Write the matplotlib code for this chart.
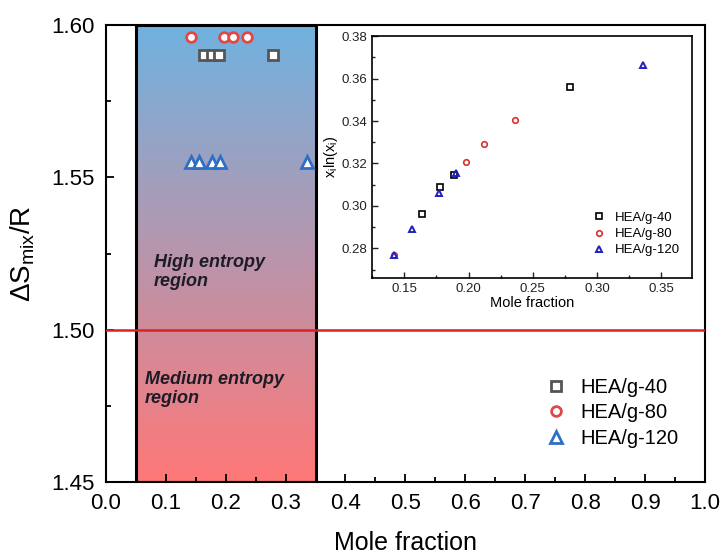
import numpy as np
import matplotlib.pyplot as plt
from matplotlib.colors import LinearSegmentedColormap
from matplotlib.ticker import MultipleLocator

plt.rcParams['font.family'] = ['Liberation Sans', 'DejaVu Sans']
plt.rcParams['mathtext.default'] = 'regular'

# mole fractions of each element per sample
x40 = [0.164, 0.178, 0.189, 0.279]
x80 = [0.142, 0.198, 0.212, 0.236]
x120 = [0.142, 0.156, 0.177, 0.190, 0.336]

# configurational entropy per sample (dS_mix / R)
s40 = 1.590
s80 = 1.596
s120 = 1.555

# -x_i ln(x_i) for the inset
y40 = [0.296, 0.309, 0.3145, 0.356]
y80 = [0.277, 0.3205, 0.329, 0.3405]
y120 = [0.277, 0.289, 0.306, 0.3155, 0.3665]

labels = ['HEA/g-40', 'HEA/g-80', 'HEA/g-120']

fig = plt.figure(figsize=(7.24, 5.56), dpi=100)
ax = fig.add_axes([0.146, 0.133, 0.828, 0.822])

# gradient region
cmap = LinearSegmentedColormap.from_list('ent', [(1.0, 0.47, 0.47), (0.44, 0.70, 0.88)])
grad = np.linspace(0, 1, 256).reshape(-1, 1)
ax.imshow(grad, extent=[0.05, 0.35, 1.45, 1.60], origin='lower', aspect='auto',
          cmap=cmap, zorder=1)
ax.add_patch(plt.Rectangle((0.05, 1.45), 0.30, 0.15, fill=False, ec='black', lw=2.2, zorder=2))

ax.axhline(1.50, color='#d92323', lw=1.8, zorder=3)

ax.plot(x40, [s40] * len(x40), 's', ms=6.5, mfc='white', mec='#555555', mew=2,
        ls='none', label=labels[0], zorder=4)
ax.plot(x80, [s80] * len(x80), 'o', ms=7, mfc='white', mec='#e04848', mew=2,
        ls='none', label=labels[1], zorder=4)
ax.plot(x120, [s120] * len(x120), '^', ms=8, mfc='white', mec='#2e6fc4', mew=2,
        ls='none', label=labels[2], zorder=4)

ax.text(0.08, 1.519, 'High entropy\nregion', fontsize=13, fontweight='bold',
        fontstyle='italic', color='#1c1c28', va='center', ha='left', zorder=5)
ax.text(0.065, 1.4805, 'Medium entropy\nregion', fontsize=13, fontweight='bold',
        fontstyle='italic', color='#1c1c28', va='center', ha='left', zorder=5)

ax.set_xlim(0.0, 1.0)
ax.set_ylim(1.45, 1.60)
ax.xaxis.set_major_locator(MultipleLocator(0.1))
ax.xaxis.set_minor_locator(MultipleLocator(0.05))
ax.yaxis.set_major_locator(MultipleLocator(0.05))
ax.yaxis.set_minor_locator(MultipleLocator(0.025))
ax.tick_params(which='both', direction='in', top=False, right=False, labelsize=16, pad=8)
ax.tick_params(which='major', length=6, width=1.3)
ax.tick_params(which='minor', length=3.5, width=1.3)
ax.xaxis.set_major_formatter(plt.FormatStrFormatter('%.1f'))
ax.yaxis.set_major_formatter(plt.FormatStrFormatter('%.2f'))
for sp in ax.spines.values():
    sp.set_linewidth(1.5)
ax.set_xlabel('Mole fraction', fontsize=18, labelpad=12)
ax.set_ylabel(r'$\Delta S_{mix}/R$', fontsize=20, labelpad=10)

ax.legend(loc='lower right', bbox_to_anchor=(0.985, 0.035), frameon=False, fontsize=14.5,
          handletextpad=0.6, labelspacing=0.32, handlelength=1.2)

# inset
ins = fig.add_axes([0.514, 0.5, 0.442, 0.435])
ins.plot(x40, y40, 's', ms=4, mfc='none', mec='black', mew=1.2, ls='none', label=labels[0])
ins.plot(x80, y80, 'o', ms=4, mfc='none', mec='#d83030', mew=1.2, ls='none', label=labels[1])
ins.plot(x120, y120, '^', ms=4.5, mfc='none', mec='#2020c0', mew=1.4, ls='none', label=labels[2])
ins.set_xlim(0.125, 0.374)
ins.set_ylim(0.266, 0.38)
ins.xaxis.set_major_locator(MultipleLocator(0.05))
ins.xaxis.set_minor_locator(MultipleLocator(0.025))
ins.yaxis.set_major_locator(MultipleLocator(0.02))
ins.yaxis.set_minor_locator(MultipleLocator(0.01))
ins.tick_params(which='both', direction='in', top=False, right=False, labelsize=9.5,
                colors='#222222')
ins.tick_params(which='major', length=4, width=1)
ins.tick_params(which='minor', length=2, width=1)
ins.xaxis.set_major_formatter(plt.FormatStrFormatter('%.2f'))
ins.yaxis.set_major_formatter(plt.FormatStrFormatter('%.2f'))
for sp in ins.spines.values():
    sp.set_linewidth(1.2)
ins.set_xlabel('Mole fraction', fontsize=10.5, labelpad=1)
ins.set_ylabel(r'$x_i ln(x_i)$', fontsize=10.5, labelpad=1)
ins.legend(loc='lower right', bbox_to_anchor=(1.0, 0.04), frameon=False, fontsize=9.5,
           handletextpad=0.6, labelspacing=0.3, handlelength=1.2)

fig.savefig('out.png', dpi=100)
